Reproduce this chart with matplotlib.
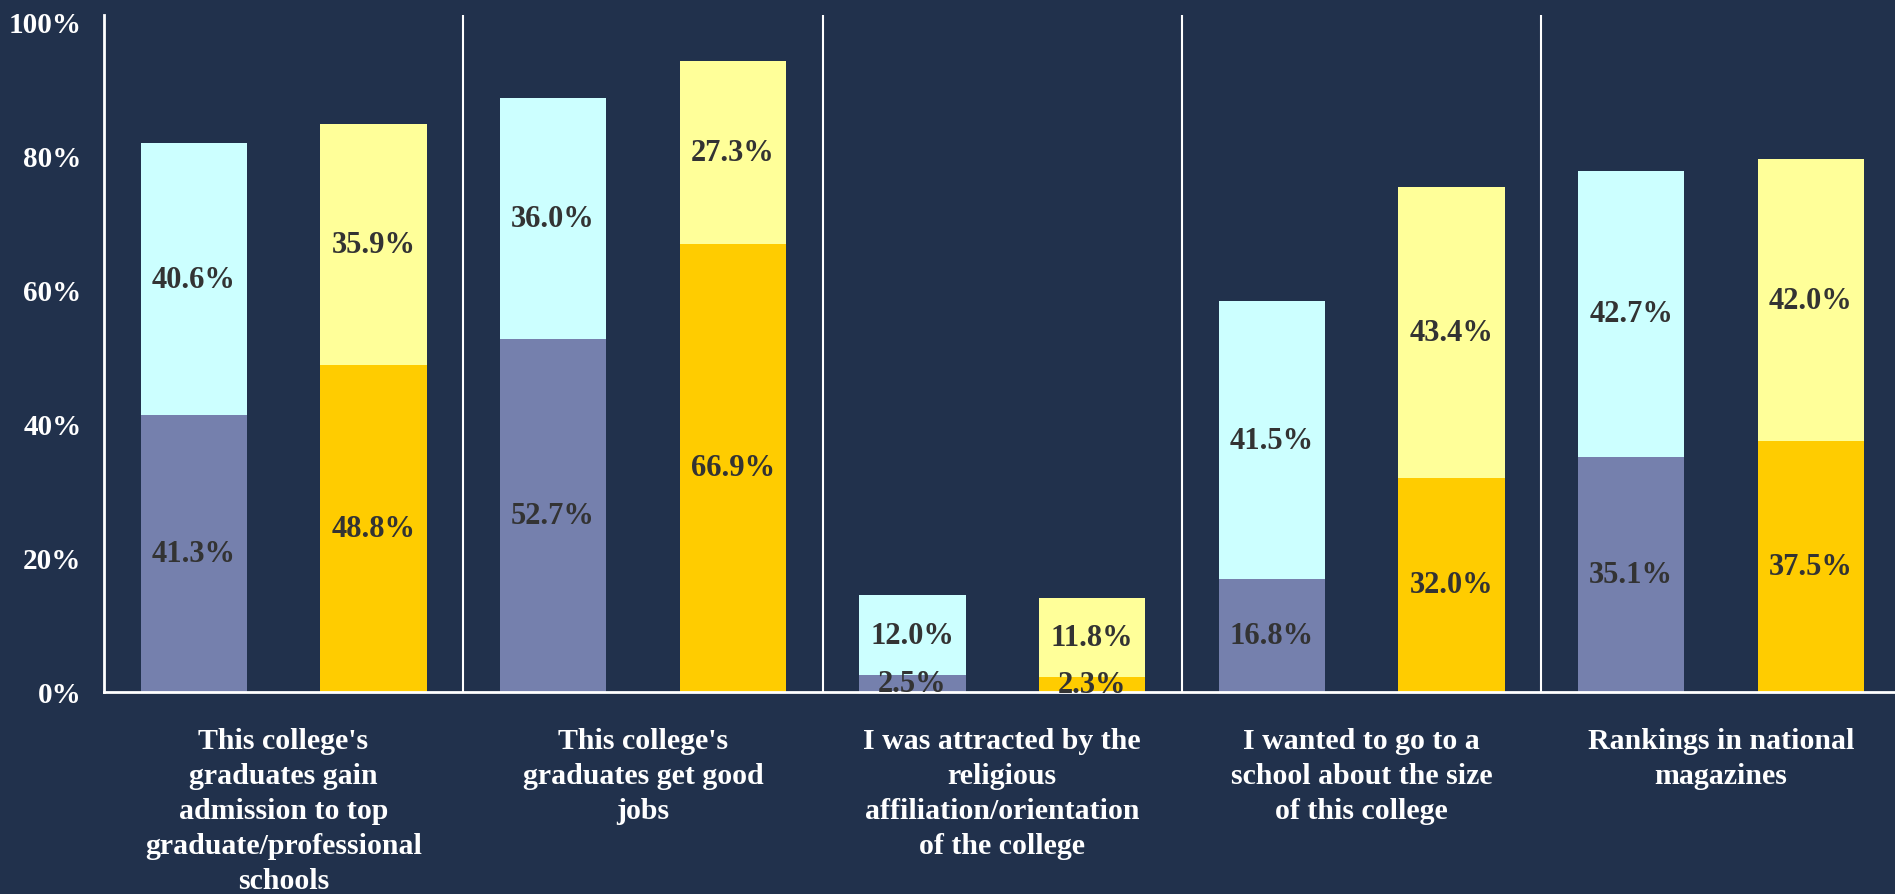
import matplotlib
matplotlib.use("Agg")
import matplotlib.pyplot as plt
import numpy as np

categories = [
    "This college's\ngraduates gain\nadmission to top\ngraduate/professional\nschools",
    "This college's\ngraduates get good\njobs",
    "I was attracted by the\nreligious\naffiliation/orientation\nof the college",
    "I wanted to go to a\nschool about the size\nof this college",
    "Rankings in national\nmagazines",
]
left_bottom = [41.3, 52.7, 2.5, 16.8, 35.1]
left_top = [40.6, 36.0, 12.0, 41.5, 42.7]
right_bottom = [48.8, 66.9, 2.3, 32.0, 37.5]
right_top = [35.9, 27.3, 11.8, 43.4, 42.0]
yticks = [0, 20, 40, 60, 80, 100]
ytick_labels = ["0%", "20%", "40%", "60%", "80%", "100%"]

BG = "#21314C"
C_LB = "#7580AD"
C_LT = "#CCFFFF"
C_RB = "#FFCC00"
C_RT = "#FFFF99"
TXT = "#333333"
FONT = "Liberation Serif"

fig = plt.figure(figsize=(18.95, 8.95), dpi=100, facecolor=BG)
ax = fig.add_axes([0.0548, 0.2257, 0.9482, 0.7565])
ax.set_facecolor(BG)

x = np.arange(len(categories))
w = 0.296
xl = x + 0.25
xr = x + 0.75

lb = np.array(left_bottom)
lt = np.array(left_top)
rb = np.array(right_bottom)
rt = np.array(right_top)

b1 = ax.bar(xl, lb, w, color=C_LB, zorder=2)
b2 = ax.bar(xl, lt, w, bottom=lb, color=C_LT, zorder=2)
b3 = ax.bar(xr, rb, w, color=C_RB, zorder=2)
b4 = ax.bar(xr, rt, w, bottom=rb, color=C_RT, zorder=2)

for bars in (b1, b2, b3, b4):
    ax.bar_label(bars, labels=[f"{b.get_height():.1f}%" for b in bars],
                 label_type="center", color=TXT, fontsize=22,
                 fontfamily=FONT, fontweight="bold", zorder=5)

for sep in x[1:]:
    ax.axvline(sep, color="white", lw=1.5, zorder=1)

ax.set_xlim(0, len(categories))
ax.set_ylim(0, 101.05)
ax.set_yticks(yticks)
ax.set_yticklabels(ytick_labels)
ax.set_xticks(x + 0.5)
ax.set_xticklabels(categories)

for sp in ("top", "right"):
    ax.spines[sp].set_visible(False)
for sp in ("left", "bottom"):
    ax.spines[sp].set_color("white")
    ax.spines[sp].set_linewidth(2)

ax.tick_params(axis="y", length=0, pad=16, labelcolor="white", labelsize=21)
ax.tick_params(axis="x", length=0, pad=25, labelcolor="white", labelsize=21.5)
for lab in ax.get_yticklabels() + ax.get_xticklabels():
    lab.set_fontfamily(FONT)
    lab.set_fontweight("bold")
for lab in ax.get_xticklabels():
    lab.set_linespacing(1.38)
    lab.set_verticalalignment("top")

fig.savefig("out.png", dpi=100, facecolor=BG)
